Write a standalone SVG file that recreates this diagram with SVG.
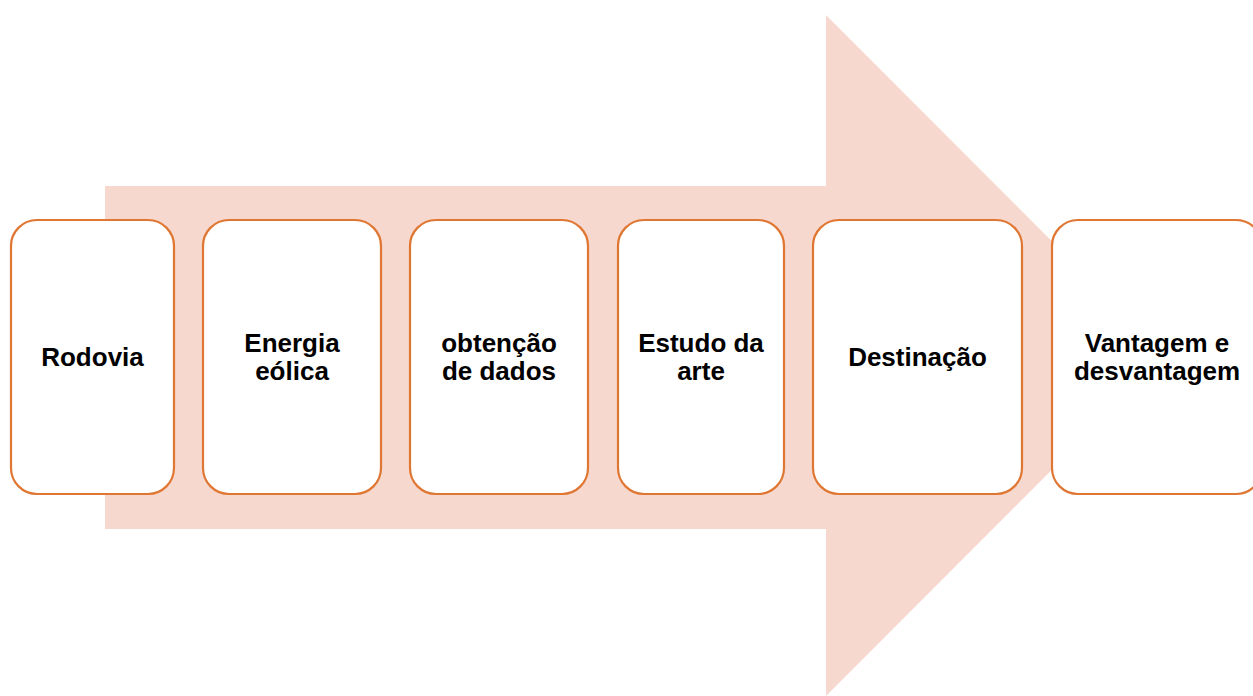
<svg xmlns="http://www.w3.org/2000/svg" width="1253" height="696" viewBox="0 0 1253 696">
<style>
.box{fill:#ffffff;stroke:#DF7632;stroke-width:2.2}
.lbl{font-family:"Liberation Sans",Arial,sans-serif;font-weight:bold;font-size:26px;fill:#000000;text-anchor:middle}
</style>
<rect width="1253" height="696" fill="#ffffff"/>
<g id="arrow">
<polygon points="105,186 826,186 826,15 1166,355.5 826,696 826,529 105,529" fill="#F7D8CE"/>
</g>
<g id="connectors"></g>
<g id="n1"><rect class="box" x="11" y="220" width="163" height="274" rx="26"/><text class="lbl" x="92.5" y="366">Rodovia</text></g>
<g id="n2"><rect class="box" x="203" y="220" width="178" height="274" rx="26"/><text class="lbl" x="292" y="352">Energia</text><text class="lbl" x="292" y="380">eólica</text></g>
<g id="n3"><rect class="box" x="410" y="220" width="178" height="274" rx="26"/><text class="lbl" x="499" y="352">obtenção</text><text class="lbl" x="499" y="380">de dados</text></g>
<g id="n4"><rect class="box" x="618" y="220" width="166" height="274" rx="26"/><text class="lbl" x="701" y="352">Estudo da</text><text class="lbl" x="701" y="380">arte</text></g>
<g id="n5"><rect class="box" x="813" y="220" width="209" height="274" rx="26"/><text class="lbl" x="917.5" y="366">Destinação</text></g>
<g id="n6"><rect class="box" x="1052" y="220" width="210" height="274" rx="26"/><text class="lbl" x="1157" y="352">Vantagem e</text><text class="lbl" x="1157" y="380">desvantagem</text></g>
</svg>
